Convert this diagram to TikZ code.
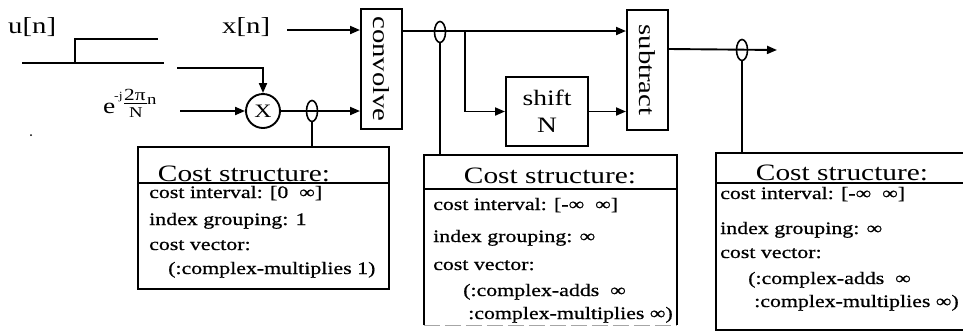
\documentclass[tikz,border=0pt]{standalone}
\usepackage{fontspec}
\setmainfont{Liberation Serif}[FakeStretch=1.25]
\newfontfamily\bodyfont{Liberation Serif}[FakeStretch=1.25,FakeBold=0.7]
\usetikzlibrary{arrows.meta,shapes.geometric}
\begin{document}
\begin{tikzpicture}[x=1pt,y=-1pt,
  ln/.style={line width=1.9pt},
  arr/.style={ln,-{Triangle[length=10pt,width=8pt]}},
  blk/.style={draw,line width=2pt,inner sep=0pt},
  boxline/.style={line width=2.2pt},
  tap/.style={draw,ellipse,line width=1.6pt,minimum width=11pt,minimum height=21pt,inner sep=0pt},
  lbl/.style={anchor=base west,inner sep=0pt,font=\fontsize{23}{26}\selectfont},
  sml/.style={anchor=base west,inner sep=0pt},
  body/.style={anchor=base west,inner sep=0pt,font=\bodyfont\fontsize{17.5}{20}\selectfont},
  ttl/.style={anchor=base,inner sep=0pt,font=\fontsize{23.5}{26}\selectfont},
  vtxt/.style={rotate=-90,inner sep=0pt,font=\fontsize{23}{23}\selectfont}
]
\useasboundingbox (0,0) rectangle (963,333);

% input labels
\node[lbl] (un) at (8,33) {u[n]};
\node[lbl] (xn) at (222,33) {x[n]};

% step drawing
\draw[ln] (22,63) -- (164,63);
\draw[ln] (75,63) -- (75,39) -- (158,39);

% stray dot
\fill (31,135) circle (1pt);

% multiplier
\node[circle,draw,line width=1.9pt,minimum size=34pt,inner sep=0pt,font=\fontsize{19}{19}\selectfont] (mult) at (263,111) {X};
\coordinate (uin) at (177,68);
\draw[arr] (uin) -| (mult.north);

% exponent label
\node[sml,font=\fontsize{22}{22}\selectfont] (ee) at (103,113) {e};
\node[sml,font=\fontsize{11}{11}\selectfont] (ej) at (114,99) {-j};
\node[sml,font=\fontsize{17}{17}\selectfont] (e2pi) at (124,100) {2π};
\draw[line width=1.2pt] (124,103.5) -- (147,103.5);
\node[sml,font=\fontsize{15}{15}\selectfont] (eN) at (129,117.5) {N};
\node[sml,font=\fontsize{15}{15}\selectfont] (en) at (147,104) {n};
\coordinate (ein) at (180,111);
\draw[arr] (ein) -- (mult.west);

% blocks
\node[blk,minimum width=41pt,minimum height=120pt] (conv) at (381.5,69) {};
\node[vtxt] (convt) at (conv.center) {convolve};
\node[blk,minimum width=82pt,minimum height=69pt,align=center,font=\fontsize{22}{27}\selectfont] (shift) at (547,111.5) {shift\\N};
\node[blk,minimum width=41pt,minimum height=120pt] (sub) at (647.5,70) {};
\node[vtxt] (subt) at (sub.center) {subtract};

% cost boxes
\node[minimum width=251pt,minimum height=142pt,inner sep=0pt] (cs1) at (263.5,218) {};
\draw[boxline] (cs1.south west) rectangle (cs1.north east);
\coordinate (h1) at (0,183);
\draw[boxline] (cs1.west |- h1) -- (cs1.east |- h1);

\node[minimum width=253pt,minimum height=170pt,inner sep=0pt] (cs2) at (550.5,240) {};
\draw[boxline] (cs2.south west) -- (cs2.north west) -- (cs2.north east) -- (cs2.south east);
\draw[gray!70,line width=1pt,dash pattern=on 16pt off 5pt] (cs2.south west) -- (cs2.south east);
\coordinate (h2) at (0,189);
\draw[boxline] (cs2.west |- h2) -- (cs2.east |- h2);

\coordinate (cs3n) at (742,153);
\draw[boxline] (963,153) -- (716,153) -- (716,330) -- (963,330);
\draw[boxline] (716,183) -- (963,183);

% connections
\coordinate (xs) at (287,30);
\draw[arr] (xs) -- (xs -| conv.west);
\draw[arr] (mult.east) -- (mult.east -| conv.west);
\node[tap] (tap1) at (312,111) {};
\draw[ln] (tap1.south) -- (tap1.south |- cs1.north);

\path (conv.north east) ++(0,23) coordinate (co);
\draw[arr] (co) -- (co -| sub.west);
\node[tap] (tap2) at (440,32) {};
\draw[ln] (tap2.south) -- (tap2.south |- cs2.north);
\coordinate (br) at (465,32);
\draw[arr] (br) |- (shift.west);
\draw[arr] (shift.east) -- (shift.east -| sub.west);

\path (sub.north east) ++(0,40) coordinate (so);
\coordinate (out) at (777,50);
\draw[arr] (so) -- (out);
\node[tap] (tap3) at (742,50) {};
\draw[ln] (tap3.south) -- (cs3n);

% box 1 text
\node[ttl] (t1) at (244,181) {Cost structure:};
\node[body] (a1) at (149,198) {cost interval: [0\ \ ∞]};
\node[body] (b1) at (149,225) {index grouping: 1};
\node[body] (c1) at (149,250) {cost vector:};
\node[body] (d1) at (168,274) {(:complex-multiplies 1)};

% box 2 text
\node[ttl] (t2) at (550,183) {Cost structure:};
\node[body] (a2) at (433,210) {cost interval: [-∞\ \ ∞]};
\node[body] (b2) at (433,242) {index grouping: ∞};
\node[body] (c2) at (433,270) {cost vector:};
\node[body] (d2) at (463,296) {(:complex-adds\ \ ∞};
\node[body] (e2) at (468,319) {:complex-multiplies ∞)};

% box 3 text
\node[ttl] (t3) at (842,180) {Cost structure:};
\node[body] (a3) at (720,199) {cost interval: [-∞\ \ ∞]};
\node[body] (b3) at (720,234) {index grouping: ∞};
\node[body] (c3) at (720,258) {cost vector:};
\node[body] (d3) at (748,284) {(:complex-adds\ \ ∞};
\node[body] (e3) at (754,307) {:complex-multiplies ∞)};
\end{tikzpicture}
\end{document}
